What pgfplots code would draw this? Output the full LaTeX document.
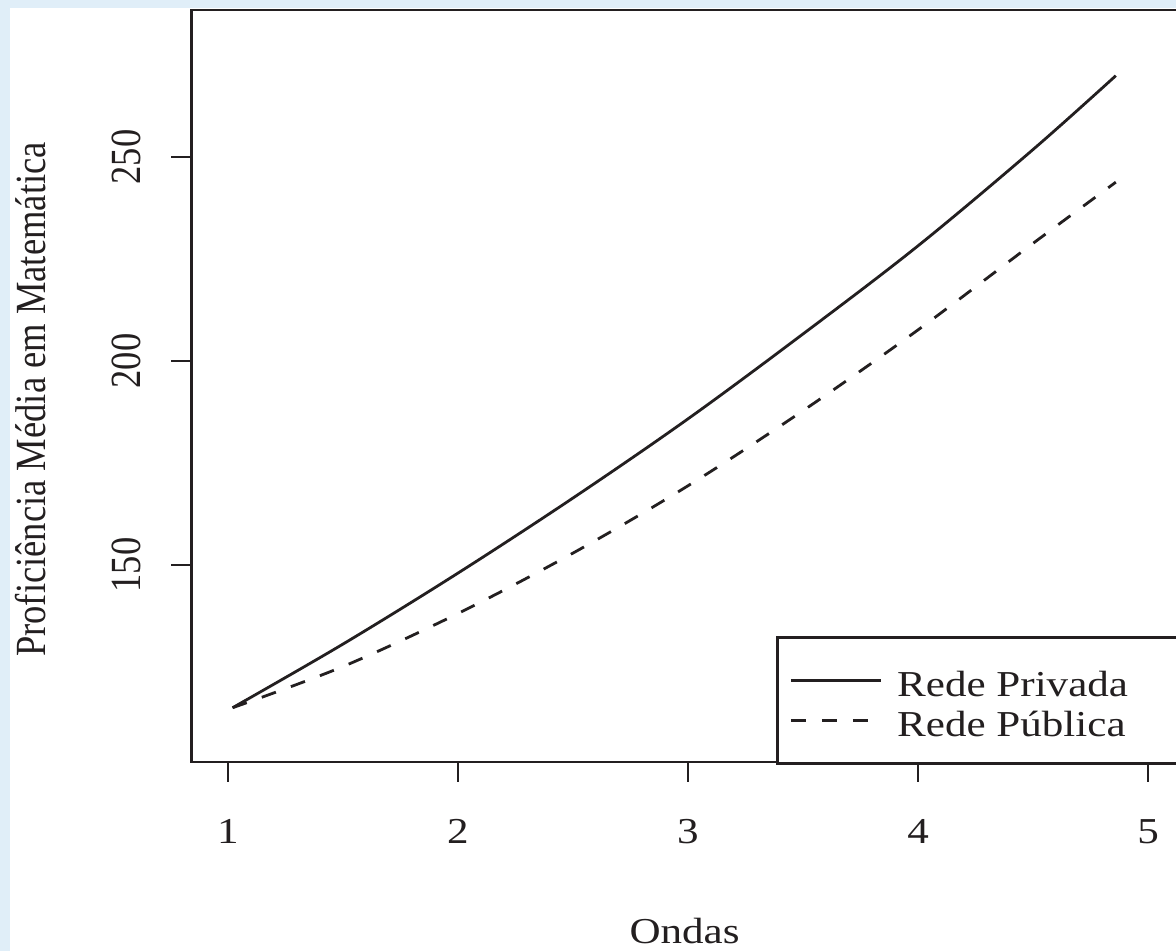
\documentclass[border=0pt]{standalone}
\usepackage{fontspec}
\setmainfont{Liberation Serif}[FakeStretch=1.18]
\newfontfamily\rotfont{Liberation Serif}[FakeStretch=0.85]
\usepackage{pgfplots}
\pgfplotsset{compat=1.18}
\definecolor{ink}{RGB}{35,31,32}
\definecolor{bgblue}{RGB}{224,238,248}
\begin{document}
\begin{tikzpicture}
\path[use as bounding box] (0pt,0pt) rectangle (588pt,475.5pt);
\clip (0pt,0pt) rectangle (588pt,475.5pt);
\fill[bgblue] (0pt,0pt) rectangle (588pt,475.5pt);
\fill[white] (5pt,0pt) rectangle (588pt,471.5pt);
\begin{axis}[
  at={(95.6pt,94.5pt)}, anchor=south west,
  scale only axis, width=496.8pt, height=376pt,
  xmin=0.84, xmax=5.16, ymin=101.7, ymax=286,
  axis line style={ink, line width=1.35pt},
  xtick={1,2,3,4,5}, ytick={150,200,250},
  minor tick num=0,
  tick align=outside, major tick length=10pt,
  tick style={ink, line width=1.35pt},
  xtick pos=lower, ytick pos=lower,
  /pgf/number format/assume math mode=true,
  xticklabel style={anchor=base, font=\fontsize{18.25}{20}\selectfont, text=ink},
  xticklabel shift=30.5pt,
  yticklabel style={rotate=90, anchor=base, font=\fontsize{21.5}{24}\rotfont, text=ink},
  yticklabel shift=15.5pt,
  xlabel={Ondas},
  xlabel style={at={(axis description cs:0.4965,-0.2407)}, anchor=base, font=\fontsize{18.25}{20}\selectfont, text=ink},
  ylabel={Proficiência Média em Matemática},
  ylabel style={at={(axis description cs:-0.1471,0.482)}, rotate=0, anchor=base, font=\fontsize{21.5}{24}\rotfont, text=ink},
  legend style={at={(axis description cs:0.5886,0.1676)}, anchor=north west,
    draw=ink, line width=1.35pt, fill=white,
    inner xsep=6pt, inner ysep=12.5pt,
    column sep=7.5pt, row sep=2pt,
    nodes={inner sep=0pt, text height=17pt, text depth=1pt},
    font=\fontsize{18.25}{20}\selectfont, text=ink},
  legend cell align=left,
  legend image code/.code={\draw[#1] (0pt,0pt) -- (45pt,0pt);},
]
\addplot[ink, line width=1.4pt, smooth, tension=0.55] coordinates {
 (1.02,115) (1.5,130.6) (2,148) (2.5,166.4) (3,185.8) (3.5,206.6) (4,228.2) (4.5,251.8) (4.86,269.9)};
\addlegendentry{\makebox[145pt][l]{Rede Privada}}
\addplot[ink, line width=1.4pt, dash pattern=on 7.5pt off 8pt, smooth, tension=0.55] coordinates {
 (1.02,115) (1.5,125.1) (2,138.1) (2.5,152.9) (3,169.4) (3.5,187.8) (4,207.6) (4.5,228.8) (4.86,243.8)};
\addlegendentry{\makebox[145pt][l]{Rede Pública}}
\end{axis}
\end{tikzpicture}
\end{document}
